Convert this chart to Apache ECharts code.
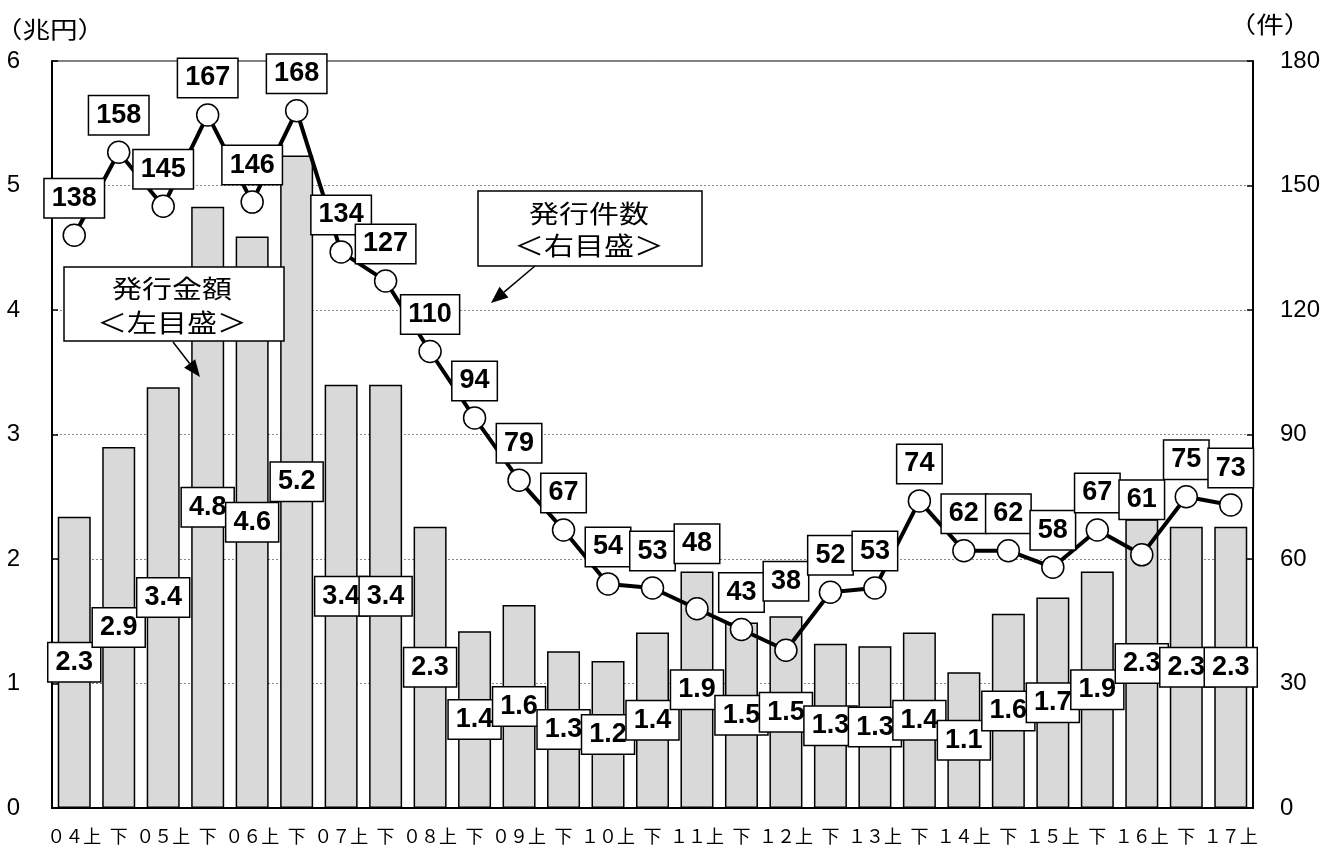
<!DOCTYPE html>
<html>
<head>
<meta charset="utf-8">
<script src="https://cdn.jsdelivr.net/npm/echarts@6/dist/echarts.min.js"></script>
<style>
html,body{margin:0;padding:0;background:#fff;}
#chart{width:1325px;height:847px;}
</style>
</head>
<body>
<div id="chart"></div>
<script>
// ---- data ----
const categories = ["０４上","下","０５上","下","０６上","下","０７上","下","０８上","下","０９上","下","１０上","下","１１上","下","１２上","下","１３上","下","１４上","下","１５上","下","１６上","下","１７上"];
const issueAmount = [2.34,2.90,3.38,4.83,4.59,5.24,3.40,3.40,2.26,1.42,1.63,1.26,1.18,1.41,1.90,1.49,1.54,1.32,1.30,1.41,1.09,1.56,1.69,1.90,2.32,2.26,2.26]; // 兆円
const issueCount = [138,158,145,167,146,168,134,127,110,94,79,67,54,53,48,43,38,52,53,74,62,62,58,67,61,75,73]; // 件
const leftTicks = [0,1,2,3,4,5,6];
const rightTicks = [0,30,60,90,120,150,180];
const leftUnit = "（兆円）";
const rightUnit = "（件）";
const amountNote = "発行金額\n＜左目盛＞";
const countNote = "発行件数\n＜右目盛＞";

// ---- layout / style ----
const countLabelLift = {14: -65, 16: -69, 24: -55};
const numFont = "'Liberation Sans', Arial, sans-serif";
const jpFont = "'Noto Sans CJK JP', sans-serif";
const boxLabel = {
  show: true,
  color: '#000',
  fontFamily: numFont,
  fontWeight: 'bold',
  fontSize: 27,
  lineHeight: 28,
  backgroundColor: '#fff',
  borderColor: '#000',
  borderWidth: 1.5,
  padding: [5, 7, 5, 7]
};

const chart = echarts.init(document.getElementById('chart'), null, {renderer: 'canvas'});

function arrow(x1, y1, x2, y2, len, half) {
  const dx = x2 - x1, dy = y2 - y1, L = Math.hypot(dx, dy);
  const ux = dx / L, uy = dy / L;
  const bx = x2 - ux * len, by = y2 - uy * len;
  const px = -uy * half, py = ux * half;
  return [
    {type: 'line', z: 20, shape: {x1: x1, y1: y1, x2: bx, y2: by}, style: {stroke: '#000', lineWidth: 1.5}},
    {type: 'polygon', z: 20, shape: {points: [[x2, y2], [bx + px, by + py], [bx - px, by - py]]}, style: {fill: '#000'}}
  ];
}

function jpText(text, x, y, size, lh) {
  return {type: 'text', z: 21, x: x, y: y, scaleX: 1.2, scaleY: 1,
    style: {text: text, fontSize: size, fontFamily: 'Noto Sans CJK JP', fill: '#000', align: 'center', verticalAlign: 'middle', lineHeight: lh || size}};
}

const option = {
  backgroundColor: '#fff',
  animation: false,
  grid: {left: 52, right: 72, top: 61, bottom: 39, show: true, borderColor: '#000', borderWidth: 1},
  xAxis: {
    type: 'category',
    data: categories,
    boundaryGap: true,
    axisLine: {lineStyle: {color: '#000', width: 2}},
    axisTick: {inside: true, length: 6, lineStyle: {color: '#000', width: 1.5}},
    axisLabel: {interval: 0, color: '#000', fontFamily: jpFont, fontSize: 18, margin: 19}
  },
  yAxis: [
    {
      type: 'value',
      min: leftTicks[0], max: leftTicks[leftTicks.length - 1], interval: leftTicks[1] - leftTicks[0],
      axisLine: {show: true, lineStyle: {color: '#000', width: 2}},
      axisTick: {show: true, inside: true, length: 6, lineStyle: {color: '#000', width: 1.5}},
      axisLabel: {color: '#000', fontFamily: numFont, fontSize: 24, margin: 32},
      splitLine: {show: true, lineStyle: {color: '#888', type: [2, 2], width: 1}}
    },
    {
      type: 'value',
      min: rightTicks[0], max: rightTicks[rightTicks.length - 1], interval: rightTicks[1] - rightTicks[0],
      axisLine: {show: true, lineStyle: {color: '#000', width: 2}},
      axisTick: {show: true, inside: true, length: 6, lineStyle: {color: '#000', width: 1.5}},
      axisLabel: {color: '#000', fontFamily: numFont, fontSize: 24, margin: 27},
      splitLine: {show: false}
    }
  ],
  series: [
    {
      name: '発行金額',
      type: 'bar',
      yAxisIndex: 0,
      z: 2,
      barWidth: 33,
      data: issueAmount,
      itemStyle: {color: '#d9d9d9', borderColor: '#000', borderWidth: 1.5},
      label: Object.assign({}, boxLabel, {position: 'inside', formatter: p => p.value.toFixed(1)})
    },
    {
      name: '発行件数',
      type: 'line',
      yAxisIndex: 1,
      z: 3,
      data: issueCount.map((v, i) => ({value: v, label: {offset: [0, countLabelLift[i] !== undefined ? countLabelLift[i] : -37]}})),
      symbol: 'circle',
      symbolSize: 22,
      lineStyle: {color: '#000', width: 4},
      itemStyle: {color: '#fff', borderColor: '#000', borderWidth: 1.5},
      label: Object.assign({}, boxLabel, {position: 'inside', formatter: '{c}'})
    }
  ],
  graphic: [
    jpText(leftUnit, 50, 29, 23),
    jpText(rightUnit, 1270, 24, 23),
    {type: 'rect', z: 20, shape: {x: 64, y: 267, width: 220, height: 74}, style: {fill: '#fff', stroke: '#000', lineWidth: 1.5}},
    jpText(amountNote, 172, 305, 25, 34),
    {type: 'rect', z: 20, shape: {x: 478, y: 191, width: 224, height: 75}, style: {fill: '#fff', stroke: '#000', lineWidth: 1.5}},
    jpText(countNote, 589, 229, 25, 32)
  ].concat(arrow(173, 342, 200, 377, 17, 7)).concat(arrow(535, 266, 491, 303, 17, 7))
};
chart.setOption(option);
</script>
</body>
</html>
